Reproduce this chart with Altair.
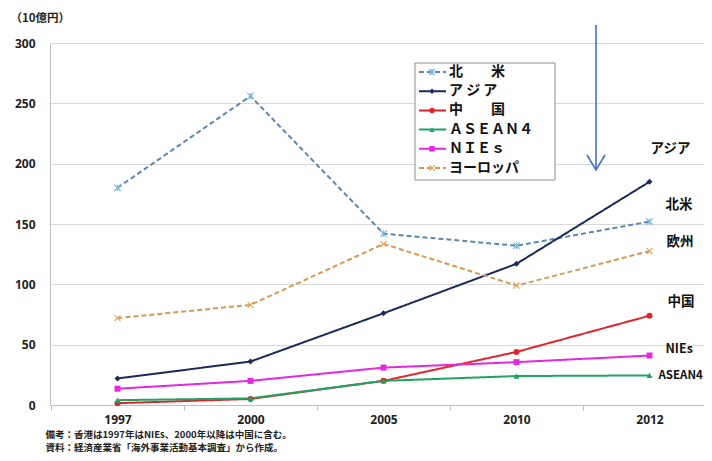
import altair as alt
import pandas as pd

years = ["1997", "2000", "2005", "2010", "2012"]
series = ["北米", "アジア", "中国", "ASEAN4", "NIEs", "ヨーロッパ"]
legend_text = ["北　　米", "ア ジ ア", "中　　国", "ＡＳＥＡＮ４", "ＮＩＥｓ", "ヨーロッパ"]

north_america = [180, 256, 142, 132, 152]
asia = [22, 36, 76, 117, 185]
china = [1.5, 5, 20, 44, 74]
asean4 = [4, 5.5, 20, 24, 24.5]
nies = [13.5, 20, 31, 35.5, 41]
europe = [72, 83, 133.5, 99, 127.5]

end_labels = ["アジア", "北米", "欧州", "中国", "NIEs", "ASEAN4"]
end_label_y = [212, 166, 135, 85, 46, 24]
end_label_dx = [1, 16, 17, 18, 16, 9]
end_label_size = [13.5, 13.5, 13.5, 13.5, 12.5, 11.5]

footnote = ["備考：香港は1997年はNIEs、2000年以降は中国に含む。",
            "資料：経済産業省「海外事業活動基本調査」から作成。"]

line_colors = ["#5b87b0", "#1a2a5a", "#e0262b", "#1fa463", "#e627e0", "#d49a52"]
dashes = [[5, 3], [1, 0], [1, 0], [1, 0], [1, 0], [5, 3]]

values = [north_america, asia, china, asean4, nies, europe]
rows = []
for s, vals in zip(series, values):
    for y, v in zip(years, vals):
        rows.append({"year": y, "series": s, "value": v})
df = pd.DataFrame(rows)

leg = pd.DataFrame({"series": series, "label": legend_text, "idx": list(range(len(series)))})
labels_df = pd.DataFrame({"label": end_labels, "y": end_label_y, "year": ["2012"] * 6})

JP = "Noto Sans CJK JP"

color_scale = alt.Scale(domain=series, range=line_colors)
dash_scale = alt.Scale(domain=series, range=dashes)

x_enc = alt.X(
    "year:O",
    scale=alt.Scale(type="band", domain=years, range=[1, 666], paddingInner=0, paddingOuter=0),
    axis=alt.Axis(
        title=footnote, titleFont=JP, titleFontSize=9.5, titleFontWeight="bold",
        titleColor="#222", titleAlign="left", titleAnchor="start", titleX=-5, titleY=24,
        titleBaseline="top", titleLineHeight=13,
        labelAngle=0, labelFont="Noto Sans", labelFontSize=12, labelFontWeight="bold",
        labelColor="#222", labelPadding=4,
        tickBand="extent", tickColor="#bfbfbf", tickSize=5,
        domainColor="#bfbfbf", grid=False,
    ),
)
y_enc = alt.Y(
    "value:Q",
    scale=alt.Scale(domain=[0, 300], nice=False),
    axis=alt.Axis(
        values=[0, 50, 100, 150, 200, 250, 300], title="（10億円）", titleAngle=0,
        titleFont=JP, titleFontSize=11.5, titleFontWeight="bold", titleColor="#222",
        titleAlign="left", titleBaseline="middle", titleX=-40, titleY=-25,
        labelFont="Noto Sans", labelFontSize=12, labelFontWeight="bold", labelColor="#222",
        labelPadding=15, ticks=False, domainColor="#bfbfbf",
        grid=True, gridColor="#d9d9d9",
    ),
)

lines = alt.Chart(df).mark_line(strokeWidth=2).encode(
    x=x_enc, y=y_enc,
    color=alt.Color("series:N", scale=color_scale, legend=None),
    strokeDash=alt.StrokeDash("series:N", scale=dash_scale, legend=None),
    detail="series:N",
)

filled_series = ["アジア", "中国", "ASEAN4", "NIEs"]
shape_scale = alt.Scale(domain=filled_series, range=["diamond", "circle", "triangle-up", "square"])

filled_pts = alt.Chart(df).transform_filter(
    alt.FieldOneOfPredicate(field="series", oneOf=filled_series)
).mark_point(filled=True, opacity=1, size=36).encode(
    x="year:O", y="value:Q",
    color=alt.Color("series:N", scale=color_scale, legend=None),
    shape=alt.Shape("series:N", scale=shape_scale, legend=None),
)

star = "M-1,-1L1,1M-1,1L1,-1M0,-1L0,1"
cross = "M-1,-1L1,1M-1,1L1,-1"
na_pts = alt.Chart(df).transform_filter(alt.datum.series == "北米").mark_point(
    shape=star, filled=False, size=40, strokeWidth=1.2, color="#7ab8e0", opacity=1
).encode(x="year:O", y="value:Q")
eu_pts = alt.Chart(df).transform_filter(alt.datum.series == "ヨーロッパ").mark_point(
    shape=cross, filled=False, size=36, strokeWidth=1.2, color="#e3a560", opacity=1
).encode(x="year:O", y="value:Q")

end_layers = []
for lab, dx, fs in zip(end_labels, end_label_dx, end_label_size):
    end_layers.append(
        alt.Chart(labels_df).transform_filter(alt.datum.label == lab).mark_text(
            align="left", baseline="middle", dx=dx, font=JP, fontSize=fs,
            fontWeight="bold", color="#111"
        ).encode(x="year:O", y="y:Q", text="label:N")
    )

# legend box
leg_y = alt.Y("idx:Q", scale=alt.Scale(domain=[0, 5], range=[29, 125]), axis=None)
leg_box = alt.Chart(leg).mark_rect(fill="white", stroke="#8c8c8c", strokeWidth=1).encode(
    x=alt.value(365), x2=alt.value(505), y=alt.value(20), y2=alt.value(137)
).transform_filter(alt.datum.idx == 0)
leg_lines = alt.Chart(leg).mark_rule(strokeWidth=2).encode(
    x=alt.value(369), x2=alt.value(396), y=leg_y,
    color=alt.Color("series:N", scale=color_scale, legend=None),
    strokeDash=alt.StrokeDash("series:N", scale=dash_scale, legend=None),
)
leg_filled = alt.Chart(leg).transform_filter(
    alt.FieldOneOfPredicate(field="series", oneOf=filled_series)
).mark_point(filled=True, opacity=1, size=30).encode(
    x=alt.value(382), y=leg_y,
    color=alt.Color("series:N", scale=color_scale, legend=None),
    shape=alt.Shape("series:N", scale=shape_scale, legend=None),
)
leg_na = alt.Chart(leg).transform_filter(alt.datum.series == "北米").mark_point(
    shape=star, filled=False, size=36, strokeWidth=1.2, color="#7ab8e0", opacity=1
).encode(x=alt.value(382), y=leg_y)
leg_eu = alt.Chart(leg).transform_filter(alt.datum.series == "ヨーロッパ").mark_point(
    shape=cross, filled=False, size=30, strokeWidth=1.2, color="#e3a560", opacity=1
).encode(x=alt.value(382), y=leg_y)
leg_text = alt.Chart(leg).mark_text(
    align="left", baseline="middle", font=JP, fontSize=14, fontWeight="bold", color="#111"
).encode(x=alt.value(399), y=leg_y, text="label:N")

# annotation arrow
arrow_line = alt.Chart(leg).transform_filter(alt.datum.idx == 0).mark_rule(
    color="#4472c4", strokeWidth=1.6
).encode(x=alt.value(546), y=alt.value(-18), y2=alt.value(127))
arrow_head = alt.Chart(leg).transform_filter(alt.datum.idx == 0).mark_point(
    shape="M-0.6,-1L0,0L0.6,-1", filled=False, size=900, strokeWidth=1.6,
    color="#4472c4", opacity=1
).encode(x=alt.value(546), y=alt.value(127))

main = alt.layer(lines, filled_pts, na_pts, eu_pts, *end_layers)
legend = alt.layer(leg_box, leg_lines, leg_filled, leg_na, leg_eu, leg_text)

chart = alt.layer(main, legend, arrow_line, arrow_head).resolve_scale(
    y="independent"
).properties(
    width=654, height=362,
    padding={"left": 42, "top": 35, "right": 0, "bottom": 48},
    autosize=alt.AutoSizeParams(type="none"),
).configure_view(stroke=None).configure(background="white")

chart.save("out.html", embed_options={"renderer": "svg", "actions": False})
